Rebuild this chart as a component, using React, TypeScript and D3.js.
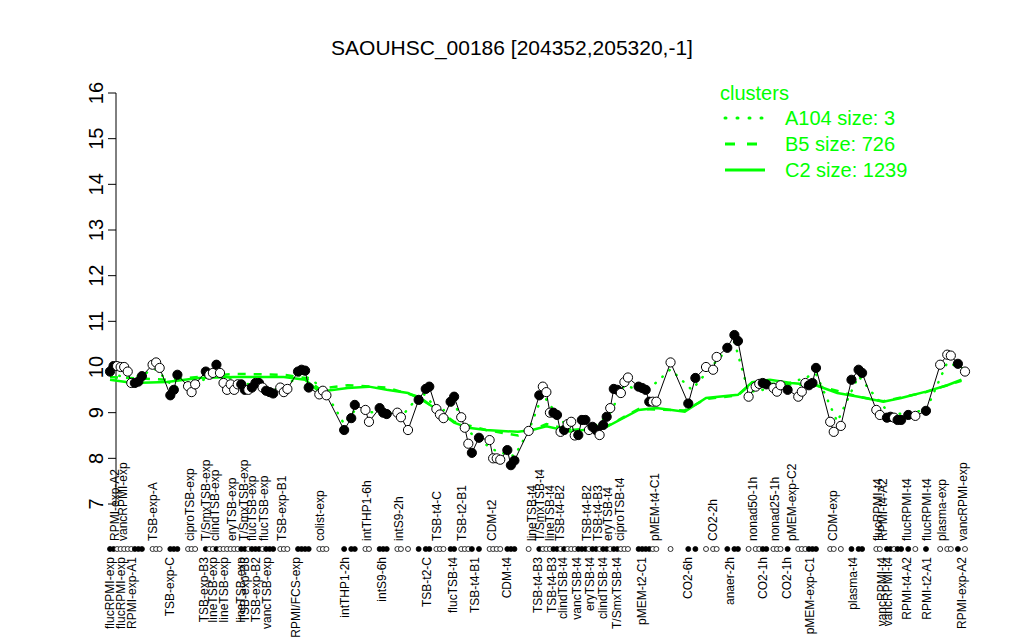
import React from "react";
import * as d3 from "d3";

const title = "SAOUHSC_00186 [204352,205320,-1]";
const yTicks = [7, 8, 9, 10, 11, 12, 13, 14, 15, 16];

// sample positions (index order), expression values and fill (1 = filled)
const sampleIdx = [
  0, 1, 2, 3, 4, 5, 6, 7, 8, 9,
  12, 13, 14, 17, 18, 19, 22, 23, 24,
  27, 28, 29, 30, 31, 32, 33, 34, 35, 36, 37, 38, 39, 40, 41, 42, 43, 44, 45, 46, 48, 49, 50,
  53, 54, 55, 56, 59, 60, 61, 66, 68, 69, 72, 73, 76, 77, 78, 81, 82, 84,
  87, 89, 90, 92, 93, 94, 96, 97, 99, 100, 101, 102, 104,
  107, 108, 109, 110, 112, 113, 114, 118,
  121, 122, 123, 124, 125, 126, 127, 128, 129, 130, 131, 132, 133, 134, 135, 136, 137, 138, 139, 140, 141, 142, 143, 144, 145, 146,
  149, 150, 151, 152, 153, 154, 158, 163, 165, 168, 170, 171, 174, 176, 177,
  180, 182, 183, 184, 185, 187, 188, 189, 191, 194, 195, 196, 197, 198, 199,
  203, 204, 206, 209, 211, 212, 216, 217, 219, 220, 221, 222, 223, 225, 227, 230, 234, 236, 237, 239, 241,
];
const sampleValue = [
  9.9, 10.02, 10.02, 10.0, 10.0, 9.9, 9.65, 9.65, 9.68, 9.8,
  10.05, 10.1, 9.98, 9.38, 9.5, 9.83, 9.58, 9.45, 9.62,
  9.9, 9.83, 9.87, 10.05, 9.87, 9.65, 9.5, 9.62, 9.5, 9.62, 9.62, 9.5, 9.5, 9.55, 9.65, 9.65, 9.55, 9.48, 9.45, 9.42, 9.55, 9.45, 9.52,
  9.9, 9.94, 9.92, 9.55, 9.4, 9.48, 9.38, 8.62, 8.88, 9.17, 9.06, 8.8, 9.1, 9.0, 8.97, 9.0, 8.9, 8.62,
  9.28, 9.52, 9.57, 9.08, 8.96, 8.88, 9.24, 9.35, 8.9, 8.67, 8.32, 8.12, 8.45,
  8.4, 8.0, 8.0, 7.97, 8.18, 7.85, 7.95, 8.6,
  9.38, 9.57, 9.45, 9.0, 9.0, 8.95, 8.58, 8.62, 8.75, 8.8, 8.5, 8.51, 8.84, 8.84, 8.62, 8.69, 8.62, 8.51, 8.73, 8.91, 9.1, 9.52, 9.5, 9.43, 9.67, 9.77,
  9.57, 9.54, 9.5, 9.24, 9.24, 9.24, 10.1, 9.2, 9.76, 10.0, 9.94, 10.22, 10.42, 10.7, 10.57,
  9.35, 9.57, 9.63, 9.65, 9.62, 9.54, 9.46, 9.6, 9.5, 9.35, 9.46, 9.65, 9.6, 9.65, 9.98,
  8.8, 8.58, 8.71, 9.72, 9.94, 9.87, 9.06, 8.95, 8.89, 8.91, 8.89, 8.84, 8.84, 8.95, 8.93, 9.04, 10.05, 10.27, 10.25, 10.07, 9.9,
];
const sampleFilled = [
  1, 1, 0, 0, 0, 0, 0, 1, 1, 1,
  0, 0, 0, 1, 1, 1, 0, 0, 0,
  1, 0, 0, 1, 0, 0, 0, 0, 0, 0, 1, 1, 0, 1, 1, 1, 0, 1, 1, 1, 0, 0, 0,
  1, 1, 1, 1, 0, 0, 0, 1, 1, 1, 0, 0, 1, 1, 1, 0, 0, 0,
  1, 1, 1, 0, 0, 0, 1, 1, 0, 0, 0, 1, 1,
  0, 0, 0, 0, 1, 1, 1, 0,
  1, 0, 0, 0, 1, 1, 0, 1, 0, 0, 0, 1, 1, 1, 0, 1, 1, 0, 1, 1, 0, 1, 1, 0, 0, 0,
  1, 1, 1, 1, 0, 0, 0, 1, 1, 0, 0, 0, 1, 1, 1,
  0, 0, 0, 1, 1, 0, 0, 0, 1, 0, 0, 0, 1, 1, 1,
  0, 0, 0, 1, 1, 1, 0, 0, 1, 1, 0, 1, 1, 1, 0, 1, 0, 0, 0, 1, 0,
];

// axis labels above the dot row
const topLabels = [
  "RPMI-exp-A2", "vancRPMI-exp", "TSB-exp-A", "ciproTSB-exp", "T/SmxTSB-exp", "clindTSB-exp", "eryTSB-exp",
  "T/SmxTSB-exp", "flucTSB-exp", "flucTSB-exp", "TSB-exp-B1", "colist-exp", "intTHP1-6h", "intS9-2h",
  "TSB-t4-C", "TSB-t2-B1", "CDM-t2", "lineTSB-t4", "T/SmxTSB-t4", "lineTSB-t4", "TSB-t4-B2", "TSB-t4-B2",
  "TSB-t4-B3", "eryTSB-t4", "ciproTSB-t4", "pMEM-t4-C1", "CO2-2h", "nonad50-1h", "nonad25-1h", "pMEM-exp-C2",
  "CDM-exp", "flucRPMI-t4", "RPMI-t4-A2", "flucRPMI-t4", "flucRPMI-t4", "plasma-exp", "vancRPMI-exp",
];
const topLabelIdx = [
  1.4, 3.7, 12.1, 22.5, 27.0, 29.6, 34.4, 37.7, 40.0, 43.4, 48.5, 59.2, 72.4, 81.4,
  92.1, 99.2, 107.6, 118.9, 121.1, 123.9, 126.8, 134.4, 137.5, 140.3, 143.7, 153.5,
  169.9, 181.1, 187.3, 192.1, 203.7, 216.3, 217.7, 224.5, 230.1, 234.6, 240.3,
];
// axis labels below the dot row
const bottomLabels = [
  "flucRPMI-exp", "flucRPMI-exp", "RPMI-exp-A1", "TSB-exp-C", "TSB-exp-B3", "lineTSB-exp", "lineTSB-exp",
  "lineTSB-exp", "TSB-exp-B3", "TSB-exp-B2", "vancTSB-exp", "RPMI/FCS-exp", "intTHP1-2h", "intS9-6h",
  "TSB-t2-C", "flucTSB-t4", "TSB-t4-B1", "CDM-t4", "TSB-t4-B3", "TSB-t4-B3", "clindTSB-t4", "vancTSB-t4",
  "eryTSB-t4", "clindTSB-t4", "T/SmxTSB-t4", "pMEM-t2-C1", "CO2-6h", "anaer-2h", "CO2-1h", "CO2-1h",
  "pMEM-exp-C1", "plasma-t4", "vancRPMI-t4", "vancRPMI-t4", "RPMI-t4-A2", "RPMI-t2-A1", "RPMI-exp-A2",
];
const bottomLabelIdx = [
  0, 3.1, 6.2, 16.9, 26.5, 29.0, 32.1, 36.9, 38.0, 41.1, 44.2, 52.4, 66.2, 76.6,
  89.3, 96.6, 102.8, 111.8, 120.6, 124.5, 127.6, 131.5, 135.2, 138.9, 142.8, 149.9,
  162.8, 174.6, 183.9, 190.7, 197.2, 209.3, 217.5, 219.2, 224.5, 230.1, 240,
];

// cluster mean profiles (read at positions along the sample order)
const c2Idx = [0, 6.5, 16, 25, 35, 49, 55, 59, 67, 73, 78, 84, 87, 91, 97, 101, 106, 115, 119, 123, 130, 140, 149, 154, 162, 168, 177, 181, 186, 192, 199, 205, 211, 218, 223, 230, 236, 240];
const c2Value = [9.72, 9.65, 9.67, 9.76, 9.78, 9.78, 9.72, 9.46, 9.54, 9.57, 9.5, 9.43, 9.32, 9.13, 8.78, 8.67, 8.62, 8.58, 8.62, 8.7, 8.58, 8.69, 9.06, 9.1, 9.02, 9.32, 9.39, 9.67, 9.72, 9.65, 9.6, 9.43, 9.35, 9.24, 9.32, 9.46, 9.6, 9.72];
const b5Idx = [0, 16, 35, 49, 55, 59, 67, 78, 87, 97, 106, 115, 123, 130, 140, 149, 162, 168, 177, 181, 199, 211, 218, 230, 240];
const b5Value = [9.78, 9.72, 9.85, 9.83, 9.76, 9.52, 9.6, 9.55, 9.35, 8.8, 8.62, 8.5, 8.75, 8.62, 8.7, 9.08, 9.05, 9.3, 9.38, 9.65, 9.6, 9.35, 9.25, 9.45, 9.7];
const a104Idx = [0, 6, 13, 18, 23, 30, 40, 48, 54, 60, 66, 69, 73, 77, 82, 88, 93, 97, 101, 104, 109, 114, 118, 122, 126, 130, 136, 141, 145, 151, 158, 164, 170, 176, 180, 188, 199, 205, 211, 220, 230, 236, 241];
const a104Value = [9.85, 9.75, 9.95, 9.55, 9.6, 9.85, 9.6, 9.5, 9.85, 9.55, 8.75, 9.05, 9.0, 9.05, 8.9, 9.45, 9.0, 9.2, 8.6, 8.4, 8.15, 8.05, 8.6, 9.4, 8.95, 8.6, 8.65, 9.0, 9.6, 9.45, 9.95, 9.5, 10.05, 10.55, 9.45, 9.55, 9.85, 8.8, 9.8, 8.95, 9.05, 10.1, 9.95];

const legendNames = ["A104 size: 3", "B5 size: 726", "C2 size: 1239"];
const legendDash = ["1 11", "10 12", ""];

const GREEN = "#00ff00";
const FONT = "'Liberation Sans', Arial, Helvetica, sans-serif";

export default function App() {
  const x = d3.scaleLinear().domain([0, 241]).range([110, 965]);
  const y = d3.scaleLinear().domain([7, 16]).range([504, 93]);
  const line = d3.line<[number, number]>().x((d) => x(d[0])).y((d) => y(d[1]));

  const pts: [number, number][] = sampleIdx.map((v, i) => [v, sampleValue[i]]);
  const c2: [number, number][] = c2Idx.map((v, i) => [v, c2Value[i]]);
  const b5: [number, number][] = b5Idx.map((v, i) => [v, b5Value[i]]);
  const a104: [number, number][] = a104Idx.map((v, i) => [v, a104Value[i]]);

  const axisX = 116;
  const dotRowY = 549;

  return (
    <svg width={1024} height={640} style={{ position: "absolute", left: 0, top: 0, background: "#fff" }} fontFamily={FONT}>
      <rect x={0} y={0} width={1024} height={640} fill="#fff" />
      <text x={512} y={55} textAnchor="middle" fontSize={21}>{title}</text>

      {/* y axis */}
      <line x1={axisX} x2={axisX} y1={y(16)} y2={y(7)} stroke="#000" />
      {yTicks.map((t) => (
        <g key={t}>
          <line x1={axisX - 8} x2={axisX} y1={y(t)} y2={y(t)} stroke="#000" />
          <text transform={`translate(${axisX - 13},${y(t)}) rotate(-90)`} textAnchor="middle" fontSize={20}>{t}</text>
        </g>
      ))}

      {/* cluster lines */}
      <path d={line(c2) || ""} fill="none" stroke={GREEN} strokeWidth={2.5} />
      <path d={line(b5) || ""} fill="none" stroke={GREEN} strokeWidth={2.5} strokeDasharray="8 8" />
      <path d={line(a104) || ""} fill="none" stroke={GREEN} strokeWidth={2.5} strokeDasharray="0.5 9" strokeLinecap="round" />

      {/* gene profile */}
      <path d={line(pts) || ""} fill="none" stroke="#000" strokeWidth={1} />
      {pts.map((p, i) => (
        <circle key={i} cx={x(p[0])} cy={y(p[1])} r={4.6} fill={sampleFilled[i] ? "#000" : "#fff"} stroke="#000" strokeWidth={1} />
      ))}

      {/* dot row */}
      {sampleIdx.map((v, i) => (
        <circle key={"d" + i} cx={x(v)} cy={dotRowY} r={2.5} fill={sampleFilled[i] ? "#000" : "#fff"} stroke="#000" strokeWidth={0.8} />
      ))}

      {/* labels */}
      {topLabels.map((s, i) => (
        <text key={"t" + i} transform={`translate(${x(topLabelIdx[i])},541) rotate(-90)`} dy="0.35em" textAnchor="start" fontSize={12}>{s}</text>
      ))}
      {bottomLabels.map((s, i) => (
        <text key={"b" + i} transform={`translate(${x(bottomLabelIdx[i])},557) rotate(-90)`} dy="0.35em" textAnchor="end" fontSize={12}>{s}</text>
      ))}

      {/* legend */}
      <text x={720} y={100} fontSize={20} fill={GREEN}>clusters</text>
      {legendNames.map((s, i) => (
        <g key={"l" + i}>
          <line x1={725} x2={765} y1={118 + i * 26} y2={118 + i * 26} stroke={GREEN} strokeWidth={3}
            strokeDasharray={legendDash[i] || undefined} strokeLinecap={i === 0 ? "round" : "butt"} />
          <text x={785} y={125 + i * 26} fontSize={20} fill={GREEN}>{s}</text>
        </g>
      ))}
    </svg>
  );
}
